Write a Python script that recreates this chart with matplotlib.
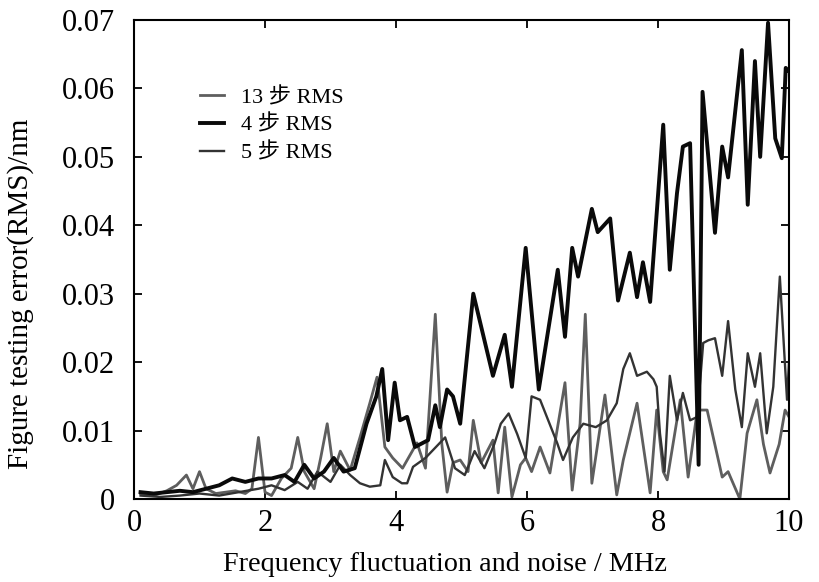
import matplotlib
matplotlib.use("Agg")
import matplotlib.pyplot as plt

plt.rcParams['font.family'] = ['Liberation Serif', 'Noto Sans CJK SC', 'DejaVu Sans']

# 4-step RMS (black, thick)
x4 = [0.1, 0.3, 0.5, 0.7, 0.9, 1.1, 1.3, 1.5, 1.7, 1.9, 2.1, 2.3, 2.45, 2.6, 2.75, 2.9, 3.05, 3.2, 3.37,
      3.55, 3.7, 3.79, 3.88, 3.98, 4.06, 4.17, 4.29, 4.49, 4.6, 4.67, 4.78, 4.87, 4.98, 5.18, 5.48, 5.66,
      5.77, 5.98, 6.18, 6.47, 6.58, 6.69, 6.78, 6.99, 7.08, 7.27, 7.39, 7.57, 7.68, 7.77, 7.88, 8.08, 8.18,
      8.29, 8.38, 8.49, 8.62, 8.68, 8.87, 8.98, 9.07, 9.28, 9.37, 9.48, 9.56, 9.68, 9.79, 9.89, 9.95, 10.0]
y4 = [0.001, 0.0008, 0.001, 0.0012, 0.001, 0.0015, 0.002, 0.003, 0.0025, 0.003, 0.003, 0.0035, 0.0025,
      0.005, 0.003, 0.004, 0.006, 0.004, 0.0045, 0.011, 0.015, 0.019, 0.0086, 0.017, 0.0115, 0.012, 0.0076,
      0.0086, 0.0137, 0.0105, 0.016, 0.015, 0.011, 0.030, 0.018, 0.024, 0.0164, 0.0367, 0.016, 0.0335,
      0.0237, 0.0367, 0.0325, 0.0424, 0.039, 0.041, 0.029, 0.036, 0.0295, 0.0346, 0.0288, 0.0547, 0.0335,
      0.0447, 0.0515, 0.052, 0.005, 0.0595, 0.0389, 0.0515, 0.047, 0.0656, 0.043, 0.064, 0.050, 0.0696,
      0.0527, 0.0498, 0.063, 0.0625]

# 13-step RMS (gray, spiky)
x13 = [0.1, 0.3, 0.5, 0.65, 0.8, 0.9, 1.0, 1.1, 1.25, 1.4, 1.55, 1.7, 1.8, 1.9, 2.0, 2.1, 2.25, 2.4, 2.5,
       2.6, 2.75, 2.85, 2.95, 3.05, 3.15, 3.3, 3.45, 3.6, 3.71, 3.83, 3.95, 4.1, 4.32, 4.45, 4.6, 4.7, 4.78,
       4.87, 4.98, 5.1, 5.18, 5.3, 5.48, 5.56, 5.66, 5.77, 5.9, 5.98, 6.07, 6.2, 6.35, 6.58, 6.69, 6.81,
       6.89, 6.99, 7.19, 7.37, 7.47, 7.68, 7.88, 7.98, 8.08, 8.14, 8.34, 8.46, 8.6, 8.75, 8.98, 9.07, 9.25,
       9.36, 9.51, 9.61, 9.71, 9.85, 9.94, 10.0]
y13 = [0.0008, 0.0005, 0.0012, 0.002, 0.0035, 0.0015, 0.004, 0.0015, 0.0008, 0.001, 0.0012, 0.0008, 0.0015,
       0.009, 0.001, 0.0005, 0.003, 0.0045, 0.009, 0.004, 0.0015, 0.006, 0.011, 0.004, 0.007, 0.0042, 0.009,
       0.014, 0.0178, 0.0076, 0.006, 0.0045, 0.0082, 0.0045, 0.027, 0.008, 0.001, 0.0053, 0.0057, 0.004,
       0.0115, 0.0053, 0.0086, 0.0009, 0.0105, 0.0003, 0.005, 0.006, 0.004, 0.0076, 0.0038, 0.017, 0.0013,
       0.011, 0.027, 0.0023, 0.0152, 0.0006, 0.0057, 0.014, 0.0009, 0.013, 0.004, 0.0028, 0.0145, 0.0032,
       0.013, 0.013, 0.0032, 0.004, 0.0, 0.0096, 0.0145, 0.008, 0.0038, 0.008, 0.013, 0.012]

# 5-step RMS (dark gray, smoother)
x5 = [0.1, 0.4, 0.7, 1.0, 1.3, 1.6, 1.9, 2.1, 2.3, 2.5, 2.65, 2.8, 3.0, 3.15, 3.3, 3.45, 3.6, 3.76, 3.83,
      3.95, 4.09, 4.17, 4.26, 4.45, 4.6, 4.75, 4.9, 5.05, 5.2, 5.35, 5.5, 5.6, 5.72, 5.85, 5.98, 6.07, 6.2,
      6.46, 6.55, 6.7, 6.86, 7.05, 7.22, 7.37, 7.47, 7.57, 7.68, 7.83, 7.93, 7.98, 8.03, 8.1, 8.18, 8.29,
      8.38, 8.49, 8.6, 8.69, 8.77, 8.87, 8.98, 9.07, 9.18, 9.28, 9.37, 9.48, 9.56, 9.66, 9.76, 9.86, 9.97,
      10.0]
y5 = [0.0005, 0.0003, 0.0005, 0.0008, 0.0005, 0.001, 0.0015, 0.002, 0.0013, 0.0025, 0.0015, 0.004, 0.0025,
      0.005, 0.0035, 0.0023, 0.0018, 0.002, 0.0057, 0.0032, 0.0023, 0.0023, 0.0047, 0.006, 0.0075, 0.009,
      0.0045, 0.0035, 0.007, 0.0045, 0.008, 0.011, 0.0125, 0.0095, 0.006, 0.015, 0.0145, 0.0082, 0.0057,
      0.009, 0.011, 0.0105, 0.0115, 0.014, 0.019, 0.0213, 0.018, 0.0186, 0.0175, 0.0164, 0.0096, 0.004,
      0.018, 0.0115, 0.0155, 0.0115, 0.012, 0.0228, 0.0232, 0.0235, 0.018, 0.026, 0.016, 0.0105, 0.0213,
      0.0164, 0.0213, 0.0096, 0.0164, 0.0325, 0.0145, 0.02]

labels = ['13 步 RMS', '4 步 RMS', '5 步 RMS']
xticks = [0, 2, 4, 6, 8, 10]
yticks = [0, 0.01, 0.02, 0.03, 0.04, 0.05, 0.06, 0.07]
yticklabels = ['0', '0.01', '0.02', '0.03', '0.04', '0.05', '0.06', '0.07']

fig = plt.figure(figsize=(8.19, 5.82), dpi=100)
ax = fig.add_axes([134 / 819, 1 - 499 / 582, 655 / 819, 479 / 582])

ax.plot(x13, y13, color='#5e5e5e', lw=2.0, label=labels[0], zorder=2)
ax.plot(x4, y4, color='#0a0a0a', lw=2.8, label=labels[1], zorder=3)
ax.plot(x5, y5, color='#333333', lw=1.7, label=labels[2], zorder=2)

ax.set_xlim(0, 10)
ax.set_ylim(0, 0.07)
ax.set_xticks(xticks)
ax.set_xticklabels([str(t) for t in xticks])
ax.set_yticks(yticks)
ax.set_yticklabels(yticklabels)
ax.tick_params(direction='in', length=6, width=1.3, top=True, right=True, labelsize=22)
ax.tick_params(axis='y', pad=14)
ax.tick_params(axis='x', pad=7)
for s in ax.spines.values():
    s.set_linewidth(1.5)

ax.set_xlabel('Frequency fluctuation and noise / MHz', fontsize=20.3)
ax.set_ylabel('Figure testing error(RMS)/nm', fontsize=21)
ax.xaxis.set_label_coords((445 - 134) / 655, (499 - 552) / 479)
ax.yaxis.set_label_coords((34 - 134) / 655, (499 - 294) / 479)

leg = ax.legend(loc='upper left', bbox_to_anchor=((184 - 134) / 655, (499 - 72) / 479), frameon=False,
                fontsize=16, handlelength=1.1, handletextpad=0.75, labelspacing=0.32, borderpad=0.2)

fig.savefig('out.png', dpi=100)
